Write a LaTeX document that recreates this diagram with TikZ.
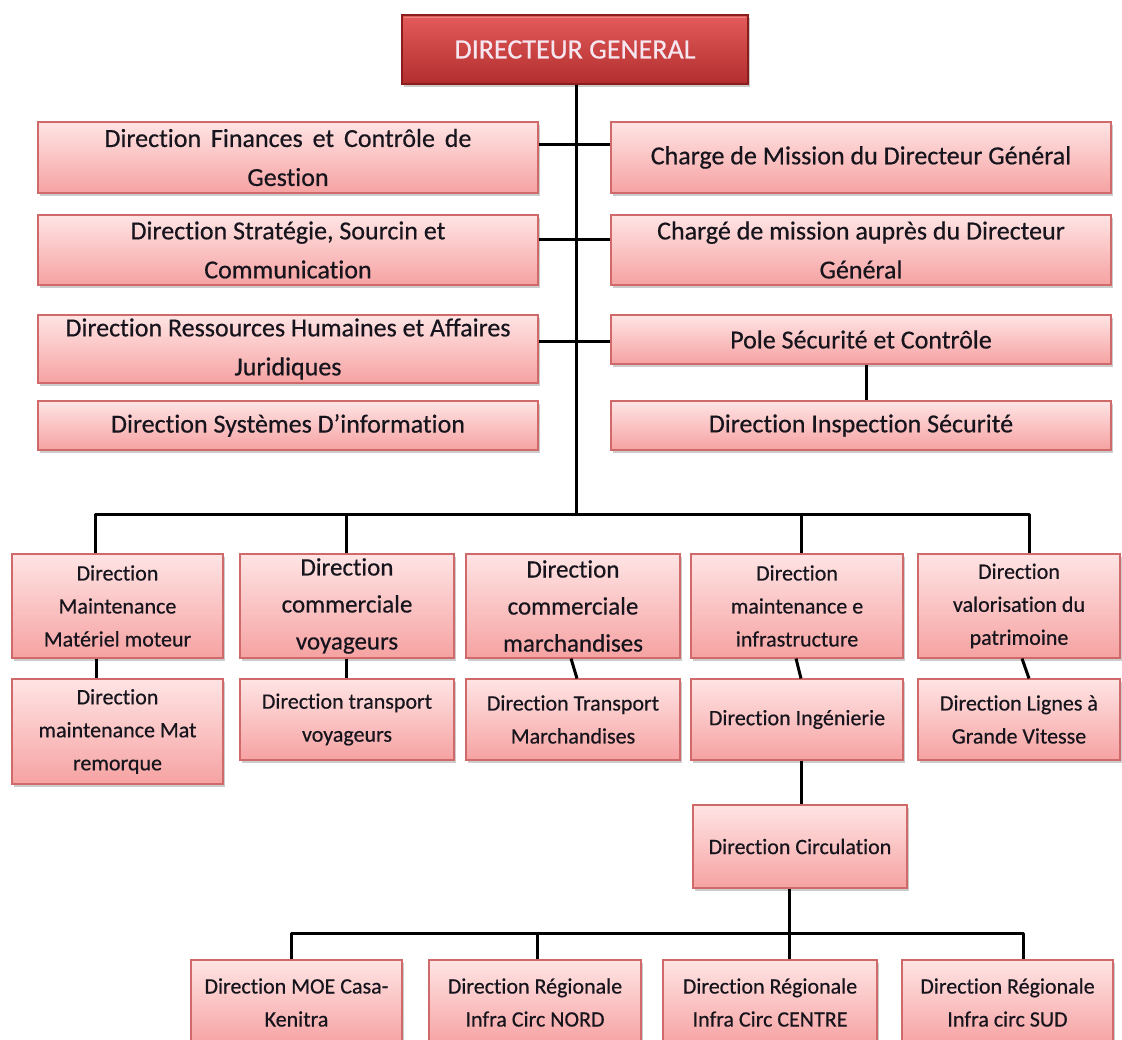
\documentclass[tikz,border=0pt]{standalone}
\usepackage{fontspec}
\setmainfont{Carlito}[Ligatures=NoCommon, FakeBold=0.5]
\usetikzlibrary{shadows,calc}

\definecolor{boxtop}{HTML}{FFE4E4}
\definecolor{boxbot}{HTML}{F6A2A2}
\definecolor{boxedge}{HTML}{D06A6A}
\definecolor{dgtop}{HTML}{E45B5B}
\definecolor{dgbot}{HTML}{B22E2E}
\definecolor{dgedge}{HTML}{8A1E1E}
\definecolor{dgtext}{HTML}{F6E6F0}
\definecolor{ink}{HTML}{16141C}

\begin{document}
\begin{tikzpicture}[x=1pt,y=-1pt,
  unitbox/.style={draw=boxedge, line width=1.1pt, top color=boxtop, bottom color=boxbot,
    drop shadow={shadow xshift=2pt, shadow yshift=-3pt, opacity=0.4},
    align=center, inner sep=0pt, text=ink},
  headbox/.style={draw=dgedge, line width=1.2pt, top color=dgtop, bottom color=dgbot,
    drop shadow={shadow xshift=2pt, shadow yshift=-3pt, opacity=0.4},
    align=center, inner sep=0pt, text=dgtext, font=\fontsize{28}{34}\selectfont},
  bigtxt/.style={font=\fontsize{26}{39}\selectfont},
  midtxt/.style={font=\fontsize{25}{37}\selectfont},
  smalltxt/.style={font=\fontsize{22}{33}\selectfont},
  upper/.style={unitbox, bigtxt, minimum width=500pt},
  lower/.style={unitbox, smalltxt},
  wire/.style={line width=3pt, black, line join=round}
]
\useasboundingbox (0,0) rectangle (1122,1039);

% Head of the organisation
\node[headbox, minimum width=346pt, minimum height=69pt] (DG) at (575,49.5) {DIRECTEUR GENERAL};
\draw[white, opacity=0.25, line width=1pt] ([shift={(3pt,-3pt)}]DG.north west) -- ([shift={(-3pt,-3pt)}]DG.north east);

% Directions attached to the general management
\node[upper, minimum height=71pt] (L1) at (288,157.5) {Direction\hspace{4pt} Finances\hspace{4pt} et\hspace{4pt} Contrôle\hspace{4pt} de\\Gestion};
\node[upper, minimum height=71pt] (R1) at (861,157.5) {Charge de Mission du Directeur Général};
\node[upper, minimum height=70pt] (L2) at (288,250) {Direction Stratégie, Sourcin et\\Communication};
\node[upper, minimum height=70pt] (R2) at (861,250) {Chargé de mission auprès du Directeur\\Général};
\node[upper, minimum height=68pt] (L3) at (288,349) {Direction Ressources Humaines et Affaires\\Juridiques};
\node[upper, minimum height=49pt] (R3) at (861,339.5) {Pole Sécurité et Contrôle};
\node[upper, minimum height=49pt] (L4) at (288,425.5) {Direction Systèmes D’information};
\node[upper, minimum height=49pt] (R4) at (861,425.5) {Direction Inspection Sécurité};

% Operational directions
\node[lower, minimum width=211pt, minimum height=104pt] (M1) at (117.5,606) {Direction\\Maintenance\\Matériel moteur};
\node[unitbox, midtxt, minimum width=214pt, minimum height=104pt] (M2) at (347,606) {Direction\\commerciale\\voyageurs};
\node[unitbox, midtxt, minimum width=214pt, minimum height=104pt] (M3) at (573,606) {Direction\\commerciale\\marchandises};
\node[lower, minimum width=212pt, minimum height=104pt] (M4) at (797,606) {Direction\\maintenance e\\infrastructure};
\node[lower, minimum width=202pt, minimum height=104pt] (M5) at (1019,606) {Direction\\valorisation du\\patrimoine};

\node[lower, minimum width=211pt, minimum height=105pt] (N1) at (117.5,731.5) {Direction\\maintenance Mat\\remorque};
\node[lower, minimum width=214pt, minimum height=81pt] (N2) at (347,719.5) {Direction transport\\voyageurs};
\node[lower, minimum width=214pt, minimum height=81pt] (N3) at (573,719.5) {Direction Transport\\Marchandises};
\node[lower, minimum width=212pt, minimum height=81pt] (N4) at (797,719.5) {Direction Ingénierie};
\node[lower, minimum width=202pt, minimum height=81pt] (N5) at (1019,719.5) {Direction Lignes à\\Grande Vitesse};

\node[lower, minimum width=214pt, minimum height=83pt] (Circ) at (800,846.5) {Direction Circulation};

\node[lower, minimum width=211pt, minimum height=85pt] (B1) at (296.5,1002.5) {Direction MOE Casa-\\Kenitra};
\node[lower, minimum width=212pt, minimum height=85pt] (B2) at (535,1002.5) {Direction Régionale\\Infra Circ NORD};
\node[lower, minimum width=214pt, minimum height=85pt] (B3) at (770,1002.5) {Direction Régionale\\Infra Circ CENTRE};
\node[lower, minimum width=211pt, minimum height=85pt] (B4) at (1007.5,1002.5) {Direction Régionale\\Infra circ SUD};

% Bus levels
\coordinate (h1) at (0,144);
\coordinate (h2) at (0,239);
\coordinate (h3) at (0,341);
\coordinate (busT) at (576,514);
\coordinate (busB) at (789,933);

% Main trunk and side links
\draw[wire] ([xshift=1pt]DG.south) -- (busT);
\draw[wire] (L1.east |- h1) -- (R1.west |- h1);
\draw[wire] (L2.east |- h2) -- (R2.west |- h2);
\draw[wire] (L3.east |- h3) -- (R3.west |- h3);
\draw[wire] ([xshift=5pt]R3.south) -- ([xshift=5pt]R4.north);

% Upper bus to the operational directions
\draw[wire] ([xshift=-22.5pt]M1.north) |- (busT) -| ([xshift=10pt]M5.north);
\draw[wire] ([xshift=-1pt]M2.north) -- ([xshift=-1pt]M2.north |- busT);
\draw[wire] ([xshift=4pt]M4.north) -- ([xshift=4pt]M4.north |- busT);

% Links between the two rows
\draw[wire] ([xshift=-21.5pt]M1.south) -- ([xshift=-21.5pt]N1.north);
\draw[wire] ([xshift=-1pt]M2.south) -- ([xshift=-1pt]N2.north);
\draw[wire] ([xshift=-2pt]M3.south) -- ([xshift=4pt]N3.north);
\draw[wire] ([xshift=-1pt]M4.south) -- ([xshift=4pt]N4.north);
\draw[wire] ([xshift=3pt]M5.south) -- ([xshift=10pt]N5.north);
\draw[wire] ([xshift=4pt]N4.south) -- ([xshift=1pt]Circ.north);

% Lower bus to the regional directions
\draw[wire] ([xshift=-11pt]Circ.south) -- (busB);
\draw[wire] ([xshift=-5.5pt]B1.north) |- (busB) -| ([xshift=15.5pt]B4.north);
\draw[wire] ([xshift=2pt]B2.north) -- ([xshift=2pt]B2.north |- busB);
\draw[wire] ([xshift=19pt]B3.north) -- ([xshift=19pt]B3.north |- busB);
\end{tikzpicture}
\end{document}
